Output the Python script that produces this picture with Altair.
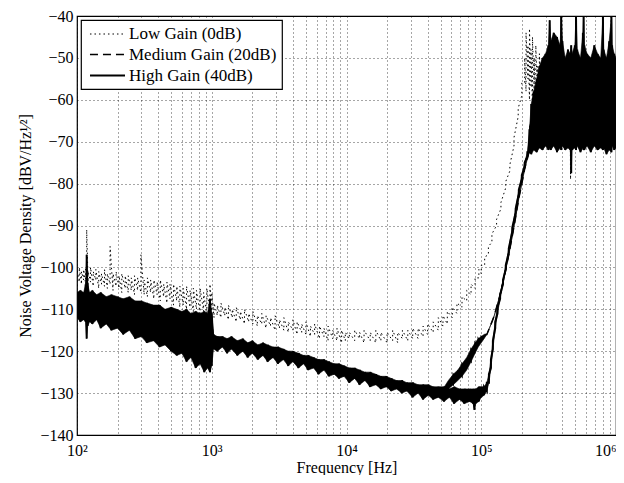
import altair as alt
import pandas as pd

SERIES = ["Low Gain (0dB)", "Medium Gain (20dB)", "High Gain (40dB)"]

# (frequency Hz, lower edge dB, upper edge dB) of each noisy trace
low_band = [
    (100, -104.5, -100.5), (104, -103.5, -100), (108, -104, -101), (112, -103, -100.5),
    (116, -104, -100), (118, -101, -91), (121, -104, -101), (126, -103.5, -100),
    (132, -104.5, -101), (138, -103, -100.5), (145, -105, -101), (152, -104, -101.5),
    (160, -104.5, -100.5), (168, -105, -101.5), (176, -104, -95), (185, -105.5, -101.5),
    (195, -104.5, -101), (205, -105, -102), (215, -106, -101.5), (228, -105, -102),
    (240, -106, -102), (253, -105.5, -102.5), (267, -106.5, -102), (282, -105.5, -102.5),
    (298, -106, -97), (315, -106.5, -103), (333, -107, -102.5), (352, -106, -103),
    (372, -107.5, -103), (393, -106.5, -103.5), (415, -108, -103), (440, -107, -104),
    (465, -108.5, -103.5), (490, -107.5, -104), (520, -109, -104), (550, -108, -104.5),
    (580, -109.5, -104.5), (615, -109, -105), (650, -110, -104.5), (690, -109.5, -105.5),
    (730, -110.5, -105), (770, -110, -105.5), (820, -111, -105), (870, -110.5, -106),
    (920, -111.5, -105), (970, -111, -104), (1000, -111.5, -106), (1040, -112, -108.5),
    (1100, -111.5, -109), (1170, -112, -108.5), (1250, -111.5, -109.5), (1330, -112.5, -109),
    (1420, -112, -110), (1520, -113, -109.5), (1630, -112.5, -110.5), (1750, -113.5, -110),
    (1880, -113, -111), (2020, -113.5, -110.5), (2180, -114, -111.5), (2350, -113.5, -111),
    (2530, -114.5, -111.5), (2730, -114, -112), (2950, -115, -111.5), (3180, -114.5, -112.5),
    (3430, -115, -112), (3700, -115.5, -113), (4000, -115, -112.5), (4300, -116, -113),
    (4650, -115.5, -113.5), (5000, -116, -113), (5400, -116.5, -114), (5800, -116, -113.5),
    (6300, -117, -114), (6800, -116.5, -114.5), (7300, -117.5, -114), (7900, -117, -115),
    (8500, -117.5, -114.5), (9200, -118, -115), (9800, -117.5, -115.5), (10500, -117, -115.5),
    (11500, -117.5, -115), (12500, -117, -115.5), (13500, -118, -115), (15000, -117.5, -115.5),
    (16500, -118, -115), (18000, -117.5, -115.5), (20000, -118, -115.5), (22000, -117.5, -115),
    (24000, -118, -115.5), (26000, -117, -115), (28500, -117.5, -115), (31000, -117, -114.5),
    (34000, -117, -114.5), (37000, -116.5, -114), (40000, -116, -113.5), (44000, -115.5, -113),
    (48000, -115, -112), (52000, -114, -111.5), (56000, -113.5, -110.5), (61000, -112, -109.5),
    (66000, -111, -108.5), (72000, -109.5, -107), (78000, -108, -105.5), (84000, -106.5, -104),
    (90000, -105, -102.5), (96000, -102.5, -100.5), (100000, -101.5, -99.5), (106000, -99.5, -97.5),
    (113000, -97, -95), (120000, -94, -92), (130000, -90, -88.5), (140000, -86, -84.5),
    (152000, -81, -79.5), (163000, -77, -75.5), (175000, -71, -69), (188000, -64, -62),
    (200000, -59, -56), (210000, -56, -50), (215000, -58, -44), (222000, -55, -47),
    (228000, -60, -43), (234000, -57, -48), (240000, -62, -45), (247000, -58, -50),
    (254000, -63, -47), (262000, -60, -52), (270000, -65, -49), (280000, -62, -53),
    (290000, -66, -50), (300000, -68, -56), (455000, -68, -56), (460000, -79, -60),
    (465000, -68, -56), (1000000, -68, -56),
]

medium_band = [
    (100, -111, -107), (300, -115, -109.5), (1000, -121, -112), (1030, -118.5, -116.5),
    (2000, -119.5, -118.5), (5000, -123, -122), (10000, -125.5, -124.5), (20000, -128, -127),
    (40000, -130, -128.5), (52000, -130.5, -129), (57000, -129, -127), (62000, -128, -125.5),
    (67000, -127, -124.5), (72000, -126, -123), (78000, -124.5, -121.5), (84000, -122.5, -119.5),
    (90000, -120.5, -118), (95000, -119, -117), (100000, -118, -116.5), (105000, -117, -116),
    (110000, -116, -116), (115000, -114.5, -114.5), (120000, -113, -113), (125000, -111.5, -111.5),
    (130000, -109.5, -109.5), (138000, -106.5, -106.5), (145000, -103.5, -103.5),
    (152000, -100.5, -100.5), (160000, -97, -97), (170000, -92.5, -92.5), (180000, -88, -88),
    (190000, -83.5, -83.5), (200000, -80, -80), (210000, -76.5, -76.5), (220000, -74, -74),
    (230000, -71.5, -66), (300000, -68, -56), (1000000, -68, -56),
]

high_band = [
    (100, -112, -106), (106, -113, -105.5), (112, -112.5, -106), (116, -113, -104),
    (118, -117, -97), (120, -114, -104), (124, -113, -106), (130, -113.5, -105.5),
    (140, -112.5, -106.5), (150, -114.5, -106), (165, -113.5, -107), (180, -115, -106.5),
    (200, -114.5, -107), (220, -116, -107.5), (245, -115, -107), (270, -117, -108),
    (300, -116.5, -108), (330, -118, -108.5), (370, -117.5, -109), (410, -119, -109),
    (450, -118.5, -110), (500, -120, -109.5), (550, -121, -110), (600, -120.5, -110.5),
    (650, -122.5, -110), (700, -121.5, -111), (760, -124, -110.5), (820, -123, -111),
    (880, -125, -110.5), (930, -124, -111), (970, -125, -107.5), (1000, -123.5, -111),
    (1030, -119.5, -116), (1100, -120, -116.5), (1200, -119, -116.5), (1300, -120.5, -117),
    (1400, -119.5, -116.5), (1550, -121, -117.5), (1700, -120, -117), (1850, -121.5, -118),
    (2000, -120.5, -117.5), (2200, -122, -118.5), (2400, -121, -118), (2600, -122.5, -118.5),
    (2850, -121.5, -119), (3100, -123, -119), (3400, -122, -119.5), (3700, -123.5, -120),
    (4000, -122.5, -120), (4400, -124, -120.5), (4800, -123, -121), (5200, -124.5, -121),
    (5700, -124, -121.5), (6200, -125.5, -122), (6800, -124.5, -122), (7400, -126, -122.5),
    (8100, -125.5, -123), (8800, -126.5, -123), (9600, -126, -123.5), (10500, -127.5, -124),
    (11500, -126.5, -124), (12500, -128, -124.5), (13700, -127, -125), (15000, -128.5, -125),
    (16500, -128, -125.5), (18000, -129, -126), (19700, -128.5, -126), (21500, -129.5, -126.5),
    (23500, -129, -127), (25800, -130, -127), (28000, -129.5, -127.5), (31000, -131, -127.5),
    (34000, -130, -128), (37000, -131.5, -128), (40500, -130.5, -128), (44000, -131.5, -128.5),
    (48000, -131, -128.5), (53000, -132, -128.5), (58000, -131, -129), (63000, -132.5, -128.5),
    (69000, -131.5, -129), (75000, -132.5, -129), (82000, -132, -129), (87000, -132.5, -129),
    (89000, -134, -129), (91000, -132.5, -129), (96000, -132, -128.5), (100000, -131, -128.5),
    (105000, -130.5, -128.5), (110000, -129.5, -127.5), (114000, -127.5, -125.5),
    (118000, -124, -122), (122000, -119.5, -117.5), (127000, -114.5, -113), (132000, -111, -109.5),
    (138000, -107.5, -106.5), (145000, -104, -103), (152000, -100.5, -99.5), (160000, -96.5, -95.5),
    (170000, -91.5, -90.5), (180000, -87, -86), (190000, -82.5, -81.5), (200000, -79, -78),
    (210000, -76, -75), (220000, -73.5, -72.5), (228000, -72.5, -67), (235000, -73, -61),
    (245000, -72, -58), (258000, -72.5, -55), (270000, -71.5, -52), (285000, -72, -50),
    (300000, -71, -49), (315000, -72, -47), (322000, -71.5, -41), (328000, -72, -46),
    (345000, -71, -44), (365000, -72.5, -45), (385000, -71.5, -47), (392000, -72, -40),
    (400000, -71, -46), (420000, -72, -50), (440000, -71.5, -48), (458000, -72, -49),
    (465000, -77.5, -47), (472000, -72, -49), (495000, -71.5, -47), (505000, -72, -40),
    (515000, -71, -48), (545000, -72.5, -50), (568000, -71.5, -44), (575000, -72, -40),
    (582000, -72, -47), (610000, -71, -49), (650000, -72.5, -50), (690000, -71, -47),
    (730000, -72, -49), (770000, -71.5, -50), (800000, -72, -40), (810000, -71.5, -48),
    (850000, -73, -50), (890000, -72, -46), (925000, -72.5, -40), (935000, -71, -47),
    (970000, -72, -49), (1000000, -71.5, -50),
]

x_mantissas = [1, 2, 3, 4, 5, 6, 7, 8, 9]
x_decades = [100, 1000, 10000, 100000]
x_ticks = [d * m for d in x_decades for m in x_mantissas] + [1000000]
x_labels = {100: "10²", 1000: "10³", 10000: "10⁴", 100000: "10⁵", 1000000: "10⁶"}
y_ticks = [-140, -130, -120, -110, -100, -90, -80, -70, -60, -50, -40]

FONT = "Liberation Serif"

# line rows: trace each band as a zig-zag between its lower and upper edge
line_rows = []
k = 0
for name, band in zip(SERIES, [low_band, medium_band, high_band]):
    for f, lo, hi in band:
        line_rows.append({"series": name, "f": f, "db": lo, "k": k}); k += 1
        line_rows.append({"series": name, "f": f, "db": hi, "k": k}); k += 1
line_df = pd.DataFrame(line_rows)

band_rows = []
for name, band in zip(SERIES[1:], [medium_band, high_band]):
    for f, lo, hi in band:
        band_rows.append({"series": name, "f": f, "lo": lo, "hi": hi})
band_df = pd.DataFrame(band_rows)

label_expr = " : ".join(f"datum.value == {v} ? '{t}'" for v, t in x_labels.items()) + " : ''"

xscale = alt.Scale(type="log", domain=[100, 1000000], nice=False)
yscale = alt.Scale(domain=[-140, -40], nice=False)
xaxis = alt.Axis(values=x_ticks, labelExpr=label_expr, labelFlush=False, labelOverlap=False,
                 ticks=False, labelPadding=7, titlePadding=1,
                 labelAlign={"condition": {"test": "datum.value >= 1000000", "value": "right"},
                             "value": "center"})
yaxis = alt.Axis(values=y_ticks, ticks=False, labelPadding=4, titlePadding=6, labelFlush=False)
XT = "Frequency [Hz]"
YT = "Noise Voltage Density [dBV/Hz¹⁄²]"

areas = alt.Chart(band_df).mark_area(color="black", stroke="black", strokeWidth=0.6, clip=True).encode(
    x=alt.X("f:Q", scale=xscale, axis=xaxis, title=XT),
    y=alt.Y("lo:Q", scale=yscale, axis=yaxis, title=YT),
    y2="hi:Q",
    detail="series:N",
)

lines = alt.Chart(line_df).mark_line(color="black", clip=True).encode(
    x=alt.X("f:Q", scale=xscale, axis=xaxis, title=XT),
    y=alt.Y("db:Q", scale=yscale, axis=yaxis, title=YT),
    strokeDash=alt.StrokeDash(
        "series:N",
        scale=alt.Scale(domain=SERIES, range=[[1.5, 3], [8, 5], [1, 0]]),
        legend=alt.Legend(
            title=None, orient="top-left", offset=4, fillColor="white", strokeColor="black",
            padding=5, labelFont=FONT, labelFontSize=17, labelColor="black",
            symbolType="M-0.65,0H3.47", symbolSize=289, symbolStrokeWidth=1.6,
            symbolStrokeColor="black", labelOffset=24, rowPadding=3, labelLimit=400,
        ),
    ),
    strokeWidth=alt.StrokeWidth("series:N", scale=alt.Scale(domain=SERIES, range=[1.0, 2.0, 1.5]), legend=None),
    order="k:Q",
)

chart = alt.layer(areas, lines).properties(
    width=539, height=419,
    autosize=alt.AutoSizeParams(type="none"),
    padding={"left": 69, "top": 8, "right": 0, "bottom": 40},
    background="white",
).configure_view(
    stroke="black", strokeWidth=1.2,
).configure_axis(
    domain=False, grid=True, gridColor="black", gridDash=[1, 3], gridOpacity=0.7, gridWidth=1,
    labelFont=FONT, labelFontSize=16, labelColor="black",
    titleFont=FONT, titleFontSize=16, titleFontWeight="normal", titleColor="black",
).configure_legend(
    strokeWidth=1.2,
)

chart.save("out.html", embed_options={"renderer": "svg", "actions": False})
